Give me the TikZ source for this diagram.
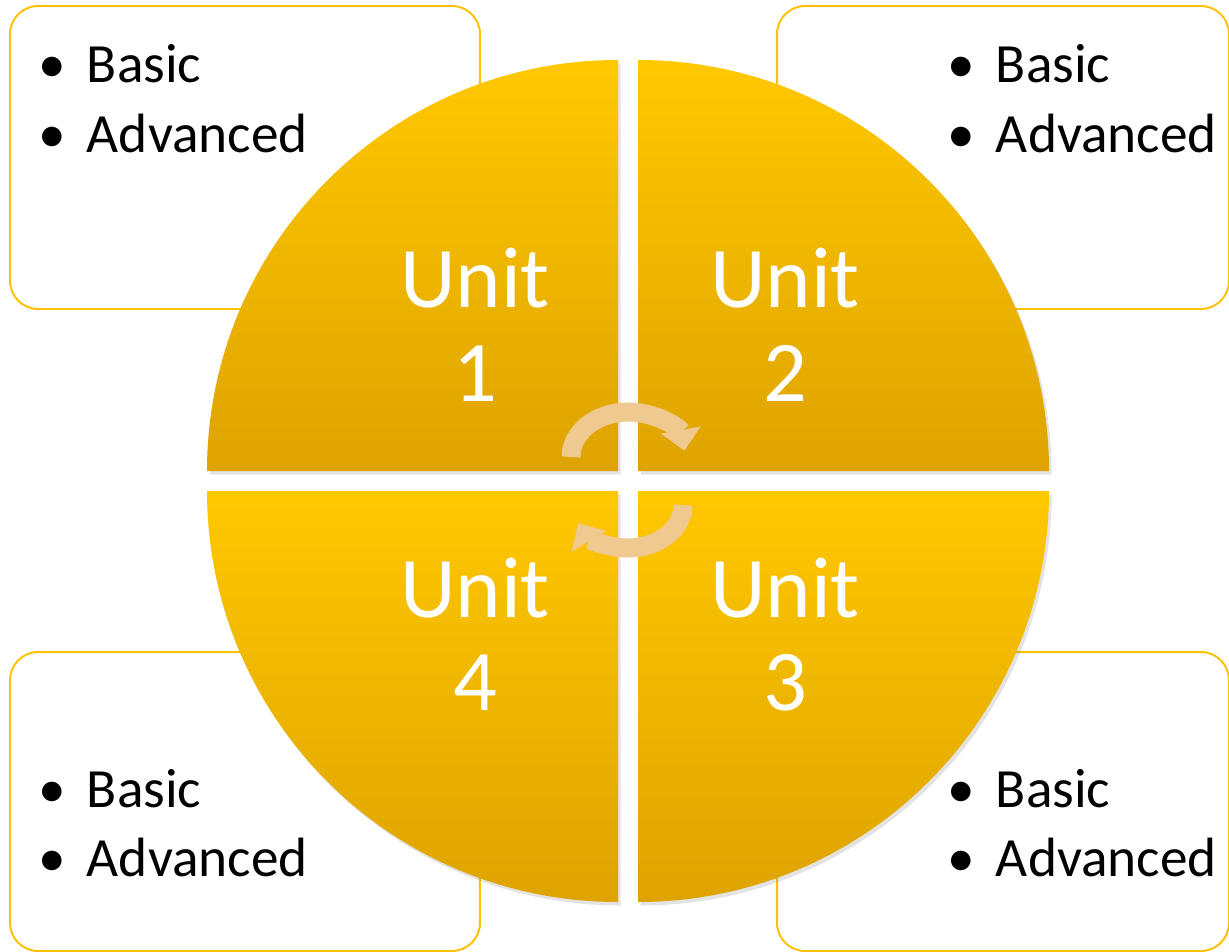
\documentclass[tikz,border=0pt]{standalone}
\usepackage{fontspec}
\setmainfont{Carlito}
\usetikzlibrary{arrows.meta,positioning,shadows}

\definecolor{unitgold}{RGB}{255,200,0}
\definecolor{unitdark}{RGB}{222,163,0}
\definecolor{boxline}{RGB}{255,192,0}
\definecolor{turncolor}{RGB}{240,201,145}

\newcommand{\bulletpair}{%
  \begin{tabular}[t]{@{}l@{\hspace{0.38em}}l@{}}
    \textbullet & Basic\\
    \textbullet & Advanced
  \end{tabular}}

\tikzset{
  infobox/.style={draw=boxline, line width=1.1pt, rounded corners=0.56cm,
    inner sep=0pt, outer sep=0pt},
  quadrant/.style={top color=unitgold, bottom color=unitdark,
    drop shadow={shadow xshift=1.5pt, shadow yshift=-2pt, opacity=0.22}},
  unitlabel/.style={text=white, anchor=base, inner sep=0pt,
    font=\fontsize{49.2}{53.4}\selectfont},
  itemlist/.style={anchor=base west, inner sep=0pt,
    font=\fontsize{31.5}{39.7}\selectfont},
  turnarrow/.style={draw=turncolor, line width=0.38cm,
    -{Triangle[length=0.42cm, width=0.78cm]}}
}

\begin{document}
\begin{tikzpicture}[x=0.02cm, y=0.02cm]
	% Define radius of the circle
	\def \rad {411}
	\clip (0,0) rectangle (1229,951);
	% Draw side boxes
	\node[infobox, minimum width=9.4cm, minimum height=6.06cm] (boxA) at (245,793.5) {};
	\node[infobox, minimum width=9.04cm, minimum height=6.06cm] (boxB) at (1003,793.5) {};
	\node[infobox, minimum width=9.04cm, minimum height=5.98cm] (boxC) at (1003,149.5) {};
	\node[infobox, minimum width=9.4cm, minimum height=5.98cm] (boxD) at (245,149.5) {};
	% Draw quadrants
	\coordinate (cA) at (618,480);
	\coordinate (cB) at (638,480);
	\coordinate (cC) at (638,460);
	\coordinate (cD) at (618,460);
	\path[quadrant] (cA) -- ++(-\rad,0) arc (180:90:\rad) -- cycle;
	\path[quadrant] (cB) -- ++(0,\rad) arc (90:0:\rad) -- cycle;
	\path[quadrant] (cC) -- ++(\rad,0) arc (0:-90:\rad) -- cycle;
	\path[quadrant] (cD) -- ++(0,-\rad) arc (-90:-180:\rad) -- cycle;
	% Draw turning arrows
	\draw[turnarrow] (571,494) arc[start angle=180, end angle=8, x radius=57, y radius=45];
	\draw[turnarrow] (683,446) arc[start angle=0, end angle=-155, x radius=55, y radius=43];
	% Draw unit labels
	\node[unitlabel] (unitA) at (475,643) {\begin{tabular}[t]{@{}c@{}}Unit\\1\end{tabular}};
	\node[unitlabel] (unitB) at (785,643) {\begin{tabular}[t]{@{}c@{}}Unit\\2\end{tabular}};
	\node[unitlabel] (unitC) at (785,334) {\begin{tabular}[t]{@{}c@{}}Unit\\3\end{tabular}};
	\node[unitlabel] (unitD) at (475,334) {\begin{tabular}[t]{@{}c@{}}Unit\\4\end{tabular}};
	% Draw item lists
	\node[itemlist] (listA) at (38,868) {\bulletpair};
	\node[itemlist] (listB) at (947,868) {\bulletpair};
	\node[itemlist] (listC) at (947,144) {\bulletpair};
	\node[itemlist] (listD) at (38,144) {\bulletpair};
\end{tikzpicture}
\end{document}
